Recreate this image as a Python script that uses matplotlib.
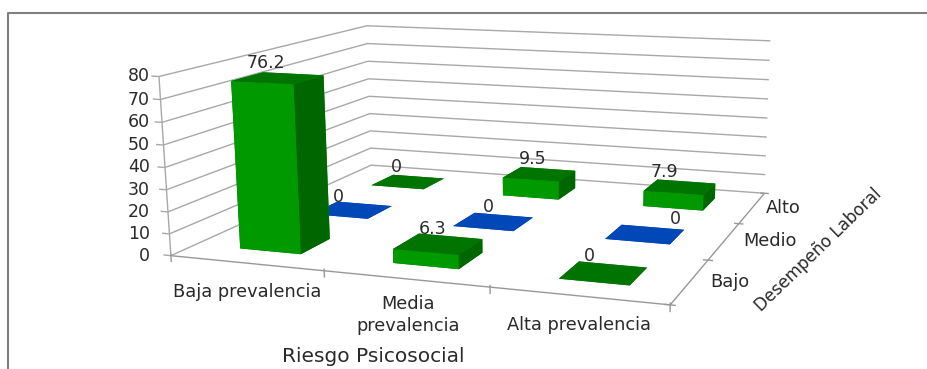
import numpy as np
import matplotlib
matplotlib.use('Agg')
import matplotlib.pyplot as plt

categories = ['Baja prevalencia', 'Media\nprevalencia', 'Alta prevalencia']
levels = ['Bajo', 'Medio', 'Alto']
bajo = [76.2, 6.3, 0]
medio = [0, 0, 0]
alto = [0, 9.5, 7.9]
series = [bajo, medio, alto]
yticks = [0, 10, 20, 30, 40, 50, 60, 70, 80]

W, H = 928, 369
ZMAX = 80

#chart box corners: (x, y, z) in data -> pixel in the picture
box_data = [(0, 0, 0), (3, 0, 0), (3, 3, 0), (0, 3, 0), (0, 0, ZMAX), (0, 3, ZMAX), (3, 3, ZMAX)]
box_px = [(172, 256), (670, 305), (765, 193), (370, 165), (158, 76), (368, 26), (770, 41)]

#camera matrix from the corners
rows = []
for (x, y, z), (u, v) in zip(box_data, box_px):
    rows.append([x, y, z, 1, 0, 0, 0, 0, -u*x, -u*y, -u*z, -u])
    rows.append([0, 0, 0, 0, x, y, z, 1, -v*x, -v*y, -v*z, -v])
P = np.linalg.svd(np.array(rows, dtype=float))[2][-1].reshape(3, 4)
P = P / P[2, 3]


def to_px(x, y, z):
    p = P @ np.array([x, y, z, 1.0])
    return p[0] / p[2], p[1] / p[2]


fig = plt.figure(figsize=(W/100, H/100), dpi=100)

#flat axes in picture pixels for the grid, under the bars
bg = fig.add_axes([0, 0, 1, 1], zorder=0)
bg.set_xlim(0, W)
bg.set_ylim(H, 0)
bg.axis('off')


def seg(pts, c='#a8a8a8', lw=1.0):
    xy = np.array([to_px(*p) for p in pts])
    bg.plot(xy[:, 0], xy[:, 1], color=c, lw=lw, solid_capstyle='butt')


for z in yticks:
    seg([(0, 0, z), (0, 3, z), (3, 3, z)])
    seg([(-0.05, 0, z), (0, 0, z)])
seg([(0, 0, 0), (0, 0, ZMAX)])
seg([(0, 0, 0), (3, 0, 0), (3, 3, 0)], c='#989898')
for x in range(4):
    seg([(x, 0, -3), (x, 0, 1)], c='#989898')
for y in range(4):
    seg([(2.97, y, 0), (3.03, y, 0)], c='#989898')

#square axes, top edge on the figure top, so pixels map on it directly
ax = fig.add_axes([0, (H - W) / H, 1, W / H], projection='3d', zorder=1)
ax.set_axis_off()
ax.patch.set_visible(False)


def picture_proj():
    x0, x1 = ax.viewLim.intervalx
    y0, y1 = ax.viewLim.intervaly
    M = np.zeros((4, 4))
    M[0] = x0 * P[2] + (x1 - x0) / W * P[0]
    M[1] = y0 * P[2] + (y1 - y0) / W * (W * P[2] - P[1])
    M[2] = [-0.1, 1, -0.01, 0.01]   #only used for draw order
    M[3] = P[2]
    return M


ax.get_proj = picture_proj

#bars
bar_w = 0.405
bar_d = 0.41
bar_dx = 0.505
bar_dy = 0.505
front = ['#009900', '#009900', '#009900']
tops = ['#007400', '#0047b8', '#007400']
side = ['#006600', '#003a99', '#006600']
for j, vals in enumerate(series):
    for i, v in enumerate(vals):
        cols = [tops[j], tops[j], front[j], front[j], side[j], side[j]]
        ax.bar3d(i + bar_dx - bar_w/2, j + bar_dy - bar_d/2, 0, bar_w, bar_d, v,
                 color=cols, shade=False, edgecolor='none')
ax.set_xlim(0, 3)
ax.set_ylim(0, 3)
ax.set_zlim(0, ZMAX)


def put(px, py, s, **kw):
    return fig.text(px / W, 1 - py / H, s, ha='center', va='center', **kw)


num_font = dict(family='DejaVu Sans', fontsize=12.5, color='#2a2a2a')
lab_font = dict(family='DejaVu Sans', fontsize=12.8, color='#2a2a2a')

#value labels, nudged by hand from the top of each bar
label_dx = [[-11, -5, -13], [-13, -4, 31], [-11, -6, -15]]
label_dy = [[-15, -15, -17], [-13, -15, -15], [-15, -15, -15]]
for j, vals in enumerate(series):
    for i, v in enumerate(vals):
        px, py = to_px(i + 0.5, j + 0.5, v)
        put(px + label_dx[j][i], py + label_dy[j][i], str(v), **num_font)

#tick labels
for z in yticks:
    py = to_px(0, 0, z)[1]
    fig.text(150 / W, 1 - py / H, str(z), ha='right', va='center', **num_font)

for s, (px, py) in zip(categories, [(247, 292), (408, 315), (579, 325)]):
    put(px, py, s, linespacing=1.3, **lab_font)
for s, (px, py) in zip(levels, [(730, 282), (770, 241), (783, 208)]):
    put(px, py, s, **lab_font)

#axis titles
put(373, 357, 'Riesgo Psicosocial', family='DejaVu Sans', fontsize=14.5, color='#2a2a2a')
put(818, 250, 'Desempeño Laboral', family='DejaVu Sans', fontsize=12.2, color='#2a2a2a', rotation=44)

#outer frame
fig.add_artist(plt.Line2D([8/W, 8/W, 1], [0, 1 - 12.5/H, 1 - 12.5/H], color='#808080', lw=1.5))

fig.savefig('out.png', dpi=100)
